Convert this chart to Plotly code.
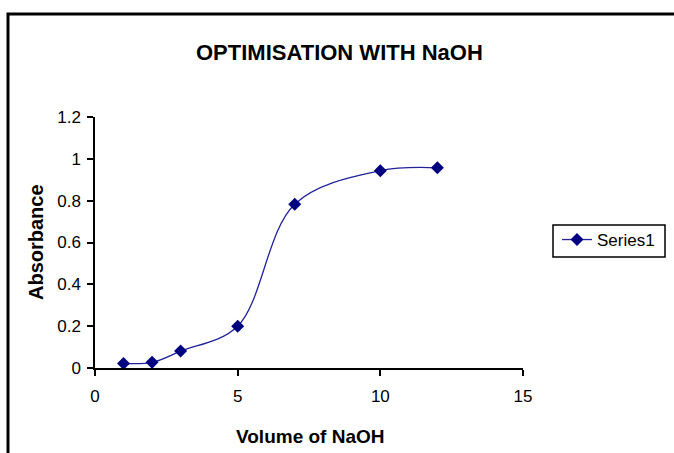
import plotly.graph_objects as go

volume = [1, 2, 3, 5, 7, 10, 12]
absorbance = [0.022, 0.027, 0.081, 0.20, 0.783, 0.943, 0.957]
series_name = "Series1"
x_ticks = [0, 5, 10, 15]
y_ticks = [0, 0.2, 0.4, 0.6, 0.8, 1, 1.2]
y_tick_text = ["0", "0.2", "0.4", "0.6", "0.8", "1", "1.2"]

FONT = "Liberation Sans, Arial, sans-serif"
NAVY = "#000080"

W, H = 674, 453
L, R, T, B = 95, 151, 117, 85
pw, ph = W - L - R, H - T - B

def px_x(p):
    return (p - L) / pw

def px_y(p):
    return (H - B - p) / ph

fig = go.Figure()
fig.add_trace(go.Scatter(
    x=volume, y=absorbance, name=series_name, mode="lines+markers",
    line=dict(color="#22229a", width=1.3, shape="spline", smoothing=1.0),
    marker=dict(symbol="diamond", size=10, color=NAVY),
))

fig.update_layout(
    width=W, height=H,
    margin=dict(l=L, r=R, t=T, b=B),
    paper_bgcolor="white", plot_bgcolor="white",
    font=dict(family=FONT, size=17, color="black"),
    showlegend=True,
    legend=dict(x=px_x(557), y=px_y(222), xanchor="left", yanchor="top",
                borderwidth=0, bgcolor="rgba(0,0,0,0)",
                font=dict(family=FONT, size=17, color="black")),
    xaxis=dict(range=[0, 15], tickvals=x_ticks, showgrid=False, zeroline=False,
               showline=True, linecolor="black", linewidth=1.5,
               ticks="outside", ticklen=6, tickcolor="black", tickwidth=1.5,
               ticklabelstandoff=6),
    yaxis=dict(range=[0, 1.2], tickvals=y_ticks, ticktext=y_tick_text, showgrid=False,
               zeroline=False, showline=True, linecolor="black", linewidth=1.5,
               ticks="outside", ticklen=6, tickcolor="black", tickwidth=1.5,
               ticklabelstandoff=3),
    shapes=[
        dict(type="rect", xref="paper", yref="paper",
             x0=px_x(8), y0=px_y(470), x1=px_x(690), y1=px_y(14),
             line=dict(color="black", width=3)),
        dict(type="rect", xref="paper", yref="paper",
             x0=px_x(553), y0=px_y(257), x1=px_x(665), y1=px_y(225),
             line=dict(color="black", width=1.5)),
    ],
    annotations=[
        dict(text="<b>OPTIMISATION WITH NaOH</b>", xref="paper", yref="paper",
             x=px_x(339), y=px_y(52), showarrow=False, xanchor="center", yanchor="middle",
             font=dict(family=FONT, size=22, color="black")),
        dict(text="<b>Volume of NaOH</b>", xref="paper", yref="paper",
             x=px_x(310), y=px_y(436), showarrow=False, xanchor="center", yanchor="middle",
             font=dict(family=FONT, size=19, color="black")),
        dict(text="<b>Absorbance</b>", xref="paper", yref="paper", textangle=-90,
             x=px_x(36), y=px_y(242), showarrow=False, xanchor="center", yanchor="middle",
             font=dict(family=FONT, size=20, color="black")),
    ],
)

fig.write_html("out.html")
